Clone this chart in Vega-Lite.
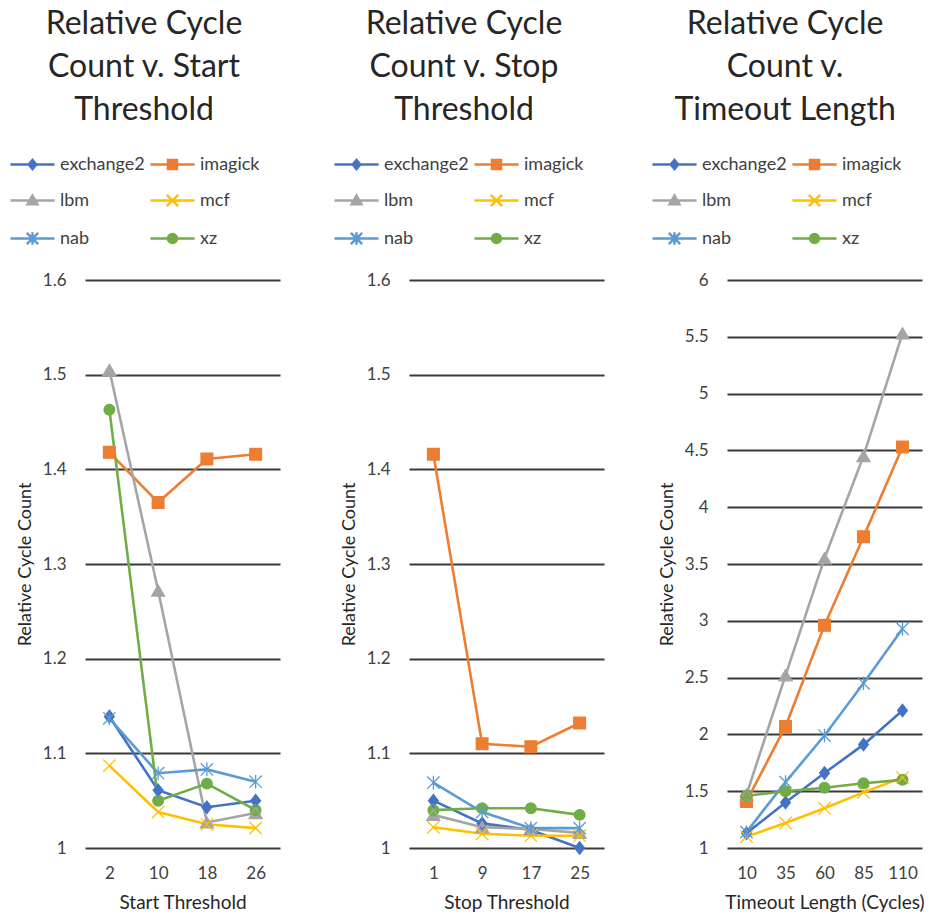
{
  "$schema": "https://vega.github.io/schema/vega-lite/v6.json",
  "background": "white",
  "padding": {"left": 16, "top": 8, "right": 5, "bottom": 5},
  "spacing": 54,
  "datasets": {
    "start": [
      {"x": 2, "bench": "exchange2", "y": 1.139}, {"x": 10, "bench": "exchange2", "y": 1.061}, {"x": 18, "bench": "exchange2", "y": 1.043}, {"x": 26, "bench": "exchange2", "y": 1.050},
      {"x": 2, "bench": "imagick", "y": 1.418}, {"x": 10, "bench": "imagick", "y": 1.365}, {"x": 18, "bench": "imagick", "y": 1.411}, {"x": 26, "bench": "imagick", "y": 1.416},
      {"x": 2, "bench": "lbm", "y": 1.505}, {"x": 10, "bench": "lbm", "y": 1.272}, {"x": 18, "bench": "lbm", "y": 1.027}, {"x": 26, "bench": "lbm", "y": 1.037},
      {"x": 2, "bench": "mcf", "y": 1.087}, {"x": 10, "bench": "mcf", "y": 1.038}, {"x": 18, "bench": "mcf", "y": 1.025}, {"x": 26, "bench": "mcf", "y": 1.021},
      {"x": 2, "bench": "nab", "y": 1.137}, {"x": 10, "bench": "nab", "y": 1.079}, {"x": 18, "bench": "nab", "y": 1.083}, {"x": 26, "bench": "nab", "y": 1.070},
      {"x": 2, "bench": "xz", "y": 1.463}, {"x": 10, "bench": "xz", "y": 1.050}, {"x": 18, "bench": "xz", "y": 1.068}, {"x": 26, "bench": "xz", "y": 1.040}
    ],
    "stop": [
      {"x": 1, "bench": "exchange2", "y": 1.050}, {"x": 9, "bench": "exchange2", "y": 1.026}, {"x": 17, "bench": "exchange2", "y": 1.019}, {"x": 25, "bench": "exchange2", "y": 1.000},
      {"x": 1, "bench": "imagick", "y": 1.416}, {"x": 9, "bench": "imagick", "y": 1.110}, {"x": 17, "bench": "imagick", "y": 1.107}, {"x": 25, "bench": "imagick", "y": 1.132},
      {"x": 1, "bench": "lbm", "y": 1.035}, {"x": 9, "bench": "lbm", "y": 1.022}, {"x": 17, "bench": "lbm", "y": 1.020}, {"x": 25, "bench": "lbm", "y": 1.016},
      {"x": 1, "bench": "mcf", "y": 1.022}, {"x": 9, "bench": "mcf", "y": 1.015}, {"x": 17, "bench": "mcf", "y": 1.013}, {"x": 25, "bench": "mcf", "y": 1.013},
      {"x": 1, "bench": "nab", "y": 1.069}, {"x": 9, "bench": "nab", "y": 1.038}, {"x": 17, "bench": "nab", "y": 1.021}, {"x": 25, "bench": "nab", "y": 1.021},
      {"x": 1, "bench": "xz", "y": 1.040}, {"x": 9, "bench": "xz", "y": 1.042}, {"x": 17, "bench": "xz", "y": 1.042}, {"x": 25, "bench": "xz", "y": 1.035}
    ],
    "timeout": [
      {"x": 10, "bench": "exchange2", "y": 1.13}, {"x": 35, "bench": "exchange2", "y": 1.40}, {"x": 60, "bench": "exchange2", "y": 1.66}, {"x": 85, "bench": "exchange2", "y": 1.91}, {"x": 110, "bench": "exchange2", "y": 2.21},
      {"x": 10, "bench": "imagick", "y": 1.41}, {"x": 35, "bench": "imagick", "y": 2.07}, {"x": 60, "bench": "imagick", "y": 2.96}, {"x": 85, "bench": "imagick", "y": 3.74}, {"x": 110, "bench": "imagick", "y": 4.53},
      {"x": 10, "bench": "lbm", "y": 1.47}, {"x": 35, "bench": "lbm", "y": 2.52}, {"x": 60, "bench": "lbm", "y": 3.55}, {"x": 85, "bench": "lbm", "y": 4.45}, {"x": 110, "bench": "lbm", "y": 5.53},
      {"x": 10, "bench": "mcf", "y": 1.10}, {"x": 35, "bench": "mcf", "y": 1.22}, {"x": 60, "bench": "mcf", "y": 1.35}, {"x": 85, "bench": "mcf", "y": 1.49}, {"x": 110, "bench": "mcf", "y": 1.62},
      {"x": 10, "bench": "nab", "y": 1.14}, {"x": 35, "bench": "nab", "y": 1.58}, {"x": 60, "bench": "nab", "y": 1.99}, {"x": 85, "bench": "nab", "y": 2.45}, {"x": 110, "bench": "nab", "y": 2.93},
      {"x": 10, "bench": "xz", "y": 1.46}, {"x": 35, "bench": "xz", "y": 1.50}, {"x": 60, "bench": "xz", "y": 1.53}, {"x": 85, "bench": "xz", "y": 1.57}, {"x": 110, "bench": "xz", "y": 1.60}
    ]
  },
  "resolve": {"legend": {"color": "independent", "shape": "independent"}},
  "hconcat": [
    {
      "spacing": 60,
      "resolve": {"legend": {"color": "independent", "shape": "independent"}},
      "hconcat": [
        {
          "width": 195, "height": 568,
          "title": {"text": ["Relative Cycle", "Count v. Start", "Threshold"], "dx": -4},
          "data": {"name": "start"},
          "encoding": {
            "x": {"field": "x", "type": "ordinal", "scale": {"type": "point", "padding": 0.5}, "axis": {"title": "Start Threshold"}},
            "y": {"field": "y", "type": "quantitative", "scale": {"domain": [1, 1.6], "zero": false, "nice": false}, "axis": {"title": "Relative Cycle Count", "values": [1, 1.1, 1.2, 1.3, 1.4, 1.5, 1.6], "format": "~g"}},
            "color": {"field": "bench", "type": "nominal", "scale": {"domain": ["exchange2", "imagick", "lbm", "mcf", "nab", "xz"], "range": ["#4472C4", "#ED7D31", "#A5A5A5", "#FFC000", "#5B9BD5", "#70AD47"]},
              "legend": {"orient": "none", "direction": "horizontal", "legendX": -69, "legendY": -132, "columns": 2, "symbolSize": 900, "labelOffset": 11, "columnPadding": 0, "rowPadding": 10, "title": null, "padding": 0,
                "encode": {"symbols": {"update": {
                  "shape": {"signal": "datum.value==='exchange2'?'M-1.47,0L1.47,0M0,-0.3L0.25,0L0,0.3L-0.25,0Z':datum.value==='imagick'?'M-1.47,0L1.47,0M-0.3,-0.3L0.3,-0.3L0.3,0.3L-0.3,0.3Z':datum.value==='lbm'?'M-1.47,0L1.47,0M0,-0.33L0.33,0.25L-0.33,0.25Z':datum.value==='mcf'?'M-1.47,0L1.47,0M-0.38,-0.38L0.38,0.38M0.38,-0.38L-0.38,0.38':datum.value==='nab'?'M-1.47,0L1.47,0M-0.38,-0.38L0.38,0.38M0.38,-0.38L-0.38,0.38M0,-0.42L0,0.42':'M-1.47,0L1.47,0M0.3,0A0.3,0.3,0,1,1,-0.3,0A0.3,0.3,0,1,1,0.3,0Z'"},
                  "fill": {"signal": "scale('color', datum.value)"},
                  "stroke": {"signal": "scale('color', datum.value)"},
                  "strokeWidth": {"value": 2.5},
                  "opacity": {"value": 1}
                }}}}},
            "shape": {"field": "bench", "type": "nominal", "legend": null, "scale": {"domain": ["xz", "nab", "mcf", "lbm", "imagick", "exchange2"], "range": ["M0.82,0A0.82,0.82,0,1,1,-0.82,0A0.82,0.82,0,1,1,0.82,0Z", "M-0.95,-0.95L0.95,0.95M0.95,-0.95L-0.95,0.95M0,-1.05L0,1.05", "M-0.95,-0.95L0.95,0.95M0.95,-0.95L-0.95,0.95", "M0,-0.85L1,0.85L-1,0.85Z", "M-0.9,-0.9L0.9,-0.9L0.9,0.9L-0.9,0.9Z", "M0,-0.95L0.75,0L0,0.95L-0.75,0Z"]}}
          },
          "layer": [
            {"mark": {"type": "line", "strokeWidth": 2.6}},
            {"mark": {"type": "point", "filled": true, "size": 169, "opacity": 1}},
            {"mark": {"type": "point", "filled": false, "size": 169, "strokeWidth": 1.3, "opacity": 1}}
          ]
        },
        {
          "width": 195, "height": 568,
          "title": {"text": ["Relative Cycle", "Count v. Stop", "Threshold"], "dx": -8},
          "data": {"name": "stop"},
          "encoding": {
            "x": {"field": "x", "type": "ordinal", "scale": {"type": "point", "padding": 0.5}, "axis": {"title": "Stop Threshold"}},
            "y": {"field": "y", "type": "quantitative", "scale": {"domain": [1, 1.6], "zero": false, "nice": false}, "axis": {"title": "Relative Cycle Count", "values": [1, 1.1, 1.2, 1.3, 1.4, 1.5, 1.6], "format": "~g"}},
            "color": {"field": "bench", "type": "nominal", "scale": {"domain": ["exchange2", "imagick", "lbm", "mcf", "nab", "xz"], "range": ["#4472C4", "#ED7D31", "#A5A5A5", "#FFC000", "#5B9BD5", "#70AD47"]},
              "legend": {"orient": "none", "direction": "horizontal", "legendX": -69, "legendY": -132, "columns": 2, "symbolSize": 900, "labelOffset": 11, "columnPadding": 0, "rowPadding": 10, "title": null, "padding": 0,
                "encode": {"symbols": {"update": {
                  "shape": {"signal": "datum.value==='exchange2'?'M-1.47,0L1.47,0M0,-0.3L0.25,0L0,0.3L-0.25,0Z':datum.value==='imagick'?'M-1.47,0L1.47,0M-0.3,-0.3L0.3,-0.3L0.3,0.3L-0.3,0.3Z':datum.value==='lbm'?'M-1.47,0L1.47,0M0,-0.33L0.33,0.25L-0.33,0.25Z':datum.value==='mcf'?'M-1.47,0L1.47,0M-0.38,-0.38L0.38,0.38M0.38,-0.38L-0.38,0.38':datum.value==='nab'?'M-1.47,0L1.47,0M-0.38,-0.38L0.38,0.38M0.38,-0.38L-0.38,0.38M0,-0.42L0,0.42':'M-1.47,0L1.47,0M0.3,0A0.3,0.3,0,1,1,-0.3,0A0.3,0.3,0,1,1,0.3,0Z'"},
                  "fill": {"signal": "scale('color', datum.value)"},
                  "stroke": {"signal": "scale('color', datum.value)"},
                  "strokeWidth": {"value": 2.5},
                  "opacity": {"value": 1}
                }}}}},
            "shape": {"field": "bench", "type": "nominal", "legend": null, "scale": {"domain": ["xz", "nab", "mcf", "lbm", "imagick", "exchange2"], "range": ["M0.82,0A0.82,0.82,0,1,1,-0.82,0A0.82,0.82,0,1,1,0.82,0Z", "M-0.95,-0.95L0.95,0.95M0.95,-0.95L-0.95,0.95M0,-1.05L0,1.05", "M-0.95,-0.95L0.95,0.95M0.95,-0.95L-0.95,0.95", "M0,-0.85L1,0.85L-1,0.85Z", "M-0.9,-0.9L0.9,-0.9L0.9,0.9L-0.9,0.9Z", "M0,-0.95L0.75,0L0,0.95L-0.75,0Z"]}}
          },
          "layer": [
            {"mark": {"type": "line", "strokeWidth": 2.6}},
            {"mark": {"type": "point", "filled": true, "size": 169, "opacity": 1}},
            {"mark": {"type": "point", "filled": false, "size": 169, "strokeWidth": 1.3, "opacity": 1}}
          ]
        }
      ]
    },
    {
      "width": 195, "height": 568,
      "title": {"text": ["Relative Cycle", "Count v.", "Timeout Length"], "dx": -6},
      "data": {"name": "timeout"},
      "encoding": {
        "x": {"field": "x", "type": "ordinal", "scale": {"type": "point", "padding": 0.5}, "axis": {"title": "Timeout Length (Cycles)"}},
        "y": {"field": "y", "type": "quantitative", "scale": {"domain": [1, 6], "zero": false, "nice": false}, "axis": {"title": "Relative Cycle Count", "values": [1, 1.5, 2, 2.5, 3, 3.5, 4, 4.5, 5, 5.5, 6], "format": "~g"}},
        "color": {"field": "bench", "type": "nominal", "scale": {"domain": ["exchange2", "imagick", "lbm", "mcf", "nab", "xz"], "range": ["#4472C4", "#ED7D31", "#A5A5A5", "#FFC000", "#5B9BD5", "#70AD47"]},
          "legend": {"orient": "none", "direction": "horizontal", "legendX": -69, "legendY": -132, "columns": 2, "symbolSize": 900, "labelOffset": 11, "columnPadding": 0, "rowPadding": 10, "title": null, "padding": 0,
            "encode": {"symbols": {"update": {
              "shape": {"signal": "datum.value==='exchange2'?'M-1.47,0L1.47,0M0,-0.3L0.25,0L0,0.3L-0.25,0Z':datum.value==='imagick'?'M-1.47,0L1.47,0M-0.3,-0.3L0.3,-0.3L0.3,0.3L-0.3,0.3Z':datum.value==='lbm'?'M-1.47,0L1.47,0M0,-0.33L0.33,0.25L-0.33,0.25Z':datum.value==='mcf'?'M-1.47,0L1.47,0M-0.38,-0.38L0.38,0.38M0.38,-0.38L-0.38,0.38':datum.value==='nab'?'M-1.47,0L1.47,0M-0.38,-0.38L0.38,0.38M0.38,-0.38L-0.38,0.38M0,-0.42L0,0.42':'M-1.47,0L1.47,0M0.3,0A0.3,0.3,0,1,1,-0.3,0A0.3,0.3,0,1,1,0.3,0Z'"},
              "fill": {"signal": "scale('color', datum.value)"},
              "stroke": {"signal": "scale('color', datum.value)"},
              "strokeWidth": {"value": 2.5},
              "opacity": {"value": 1}
            }}}}},
        "shape": {"field": "bench", "type": "nominal", "legend": null, "scale": {"domain": ["xz", "nab", "mcf", "lbm", "imagick", "exchange2"], "range": ["M0.82,0A0.82,0.82,0,1,1,-0.82,0A0.82,0.82,0,1,1,0.82,0Z", "M-0.95,-0.95L0.95,0.95M0.95,-0.95L-0.95,0.95M0,-1.05L0,1.05", "M-0.95,-0.95L0.95,0.95M0.95,-0.95L-0.95,0.95", "M0,-0.85L1,0.85L-1,0.85Z", "M-0.9,-0.9L0.9,-0.9L0.9,0.9L-0.9,0.9Z", "M0,-0.95L0.75,0L0,0.95L-0.75,0Z"]}}
      },
      "layer": [
        {"mark": {"type": "line", "strokeWidth": 2.6}},
        {"mark": {"type": "point", "filled": true, "size": 169, "opacity": 1}},
        {"mark": {"type": "point", "filled": false, "size": 169, "strokeWidth": 1.3, "opacity": 1}}
      ]
    }
  ],
  "config": {
    "font": "Lato",
    "view": {"stroke": null},
    "title": {"fontSize": 32, "lineHeight": 43, "font": "Lato", "fontWeight": "normal", "color": "#262626", "anchor": "middle", "frame": "bounds", "offset": 21},
    "axis": {"domain": false, "ticks": false, "labelFont": "Lato", "labelFontSize": 17, "labelColor": "#404040", "titleFont": "Lato", "titleFontWeight": "normal", "titleColor": "#262626"},
    "axisY": {"grid": true, "gridColor": "#3a3a3a", "gridWidth": 2, "labelPadding": 19, "titleFontSize": 18, "titlePadding": 8},
    "axisX": {"grid": false, "labelAngle": 0, "labelPadding": 17, "titleFontSize": 19, "titlePadding": 12},
    "legend": {"labelFont": "Lato", "labelFontSize": 18, "labelColor": "#404040"}
  }
}
